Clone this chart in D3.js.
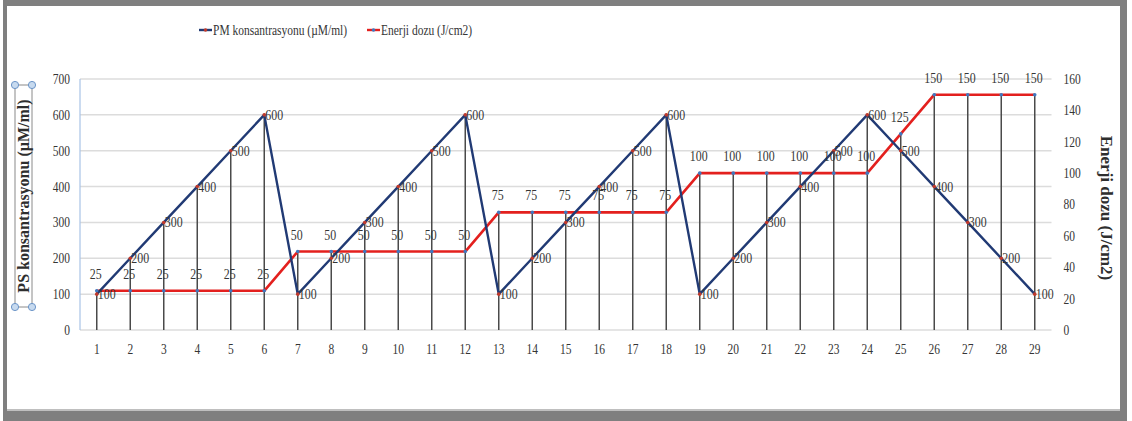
<!DOCTYPE html>
<html>
<head>
<meta charset="utf-8">
<script src="https://cdn.jsdelivr.net/npm/d3@7"></script>
<style>
  html, body { margin: 0; padding: 0; background: #fff; }
  svg { display: block; }
</style>
</head>
<body>
<svg id="chart" width="1132" height="421"></svg>
<script>
// Categories (sessions 1..29)
const categories = d3.range(1, 30).map(String);

// PM concentration (µM/ml), left axis
const pmValues = [100, 200, 300, 400, 500, 600,
                  100, 200, 300, 400, 500, 600,
                  100, 200, 300, 400, 500, 600,
                  100, 200, 300, 400, 500, 600,
                  500, 400, 300, 200, 100];

// Energy dose (J/cm2), right axis
const energyValues = [25, 25, 25, 25, 25, 25,
                      50, 50, 50, 50, 50, 50,
                      75, 75, 75, 75, 75, 75,
                      100, 100, 100, 100, 100, 100,
                      125, 150, 150, 150, 150];

const leftTicks = [0, 100, 200, 300, 400, 500, 600, 700];
const rightTicks = [0, 20, 40, 60, 80, 100, 120, 140, 160];

const seriesNames = ["PM konsantrasyonu (µM/ml)", "Enerji dozu (J/cm2)"];
const leftTitle = "PS konsantrasyonu (µM/ml)";
const rightTitle = "Enerji dozu (J/cm2)";

const PM_COLOR = "#213a74";
const EN_COLOR = "#e3201e";
const TEXT_COLOR = "#353535";
const FONT = "'Liberation Serif', 'Times New Roman', serif";
const SX = 0.82; // horizontal squeeze of the serif labels

const svg = d3.select("#chart");

// Outer frame
svg.append("rect").attr("x", 3).attr("y", 0).attr("width", 1124).attr("height", 421).attr("fill", "#7f7f7f");
svg.append("rect").attr("x", 7).attr("y", 6).attr("width", 1113).attr("height", 403).attr("fill", "#ffffff");
svg.append("line").attr("x1", 7).attr("x2", 1120).attr("y1", 410).attr("y2", 410)
   .attr("stroke", "#d4d4d4").attr("stroke-width", 1.5);

const plot = { left: 80, right: 1051.5, top: 79, bottom: 330 };

const x = d3.scaleBand().domain(categories).range([plot.left, plot.right]).padding(0);
const cx = c => x(c) + x.bandwidth() / 2;
const yL = d3.scaleLinear().domain([0, 700]).range([plot.bottom, plot.top]);
const yR = d3.scaleLinear().domain([0, 160]).range([plot.bottom, plot.top]);

// Horizontal gridlines
svg.append("g").selectAll("line").data(leftTicks).join("line")
  .attr("x1", plot.left).attr("x2", plot.right)
  .attr("y1", d => yL(d)).attr("y2", d => yL(d))
  .attr("stroke", "#dcdcdc").attr("stroke-width", 1.5);

// Left axis line
svg.append("line").attr("x1", plot.left).attr("x2", plot.left)
  .attr("y1", plot.top).attr("y2", plot.bottom)
  .attr("stroke", "#a8c3e6").attr("stroke-width", 1.2);

function squeezeText(sel) {
  sel.each(function () {
    const t = d3.select(this);
    const ox = +t.attr("x") || 0;
    t.attr("x", ox / SX).attr("transform", `scale(${SX},1)`);
  });
}

function styleAxis(g) {
  g.select(".domain").remove();
  g.selectAll(".tick line").remove();
  g.selectAll("text")
    .attr("fill", TEXT_COLOR)
    .style("font-family", FONT)
    .style("font-size", "14px");
}

// Left axis
const gL = svg.append("g").attr("transform", `translate(${plot.left},0)`)
  .call(d3.axisLeft(yL).tickValues(leftTicks).tickSize(0).tickPadding(10));
styleAxis(gL);
squeezeText(gL.selectAll("text"));

// Right axis
const gR = svg.append("g").attr("transform", `translate(${plot.right},0)`)
  .call(d3.axisRight(yR).tickValues(rightTicks).tickSize(0).tickPadding(12));
styleAxis(gR);
squeezeText(gR.selectAll("text"));

// Bottom axis
const gB = svg.append("g").attr("transform", `translate(0,${plot.bottom})`)
  .call(d3.axisBottom(x).tickSize(0).tickPadding(14));
styleAxis(gB);
gB.selectAll("text").attr("transform", `scale(${SX},1)`);

// Drop lines from the highest point of each category down to the axis
svg.append("g").selectAll("line").data(categories).join("line")
  .attr("x1", c => cx(c)).attr("x2", c => cx(c))
  .attr("y1", (c, i) => Math.min(yL(pmValues[i]), yR(energyValues[i])))
  .attr("y2", plot.bottom)
  .attr("stroke", "#4a4a4a").attr("stroke-width", 1.5);

// Series lines
const pmLine = d3.line().x((d, i) => cx(categories[i])).y(d => yL(d));
const enLine = d3.line().x((d, i) => cx(categories[i])).y(d => yR(d));

svg.append("path").datum(energyValues).attr("d", enLine)
  .attr("fill", "none").attr("stroke", EN_COLOR).attr("stroke-width", 2.6)
  .attr("stroke-linejoin", "round");
svg.append("path").datum(pmValues).attr("d", pmLine)
  .attr("fill", "none").attr("stroke", PM_COLOR).attr("stroke-width", 2.4)
  .attr("stroke-linejoin", "round");

// Markers
svg.append("g").selectAll("circle").data(energyValues).join("circle")
  .attr("cx", (d, i) => cx(categories[i])).attr("cy", d => yR(d)).attr("r", 1.8)
  .attr("fill", "#3f78c0");
svg.append("g").selectAll("circle").data(pmValues).join("circle")
  .attr("cx", (d, i) => cx(categories[i])).attr("cy", d => yL(d)).attr("r", 1.8)
  .attr("fill", "#c0392b");

// Data labels: PM to the right of the point, energy above it
svg.append("g").selectAll("text").data(pmValues).join("text")
  .attr("transform", (d, i) => `translate(${cx(categories[i]) + 1},${yL(d) + 5}) scale(${SX},1)`)
  .attr("fill", TEXT_COLOR).style("font-family", FONT).style("font-size", "14.5px")
  .text(d => d);
svg.append("g").selectAll("text").data(energyValues).join("text")
  .attr("transform", (d, i) => `translate(${cx(categories[i]) - 1},${yR(d) - 12}) scale(${SX},1)`)
  .attr("text-anchor", "middle")
  .attr("fill", TEXT_COLOR).style("font-family", FONT).style("font-size", "14.5px")
  .text(d => d);

// Legend
const legend = svg.append("g").attr("transform", "translate(199,30)");
const legendItems = [
  { name: seriesNames[0], line: PM_COLOR, dot: "#c0392b", x: 0 },
  { name: seriesNames[1], line: EN_COLOR, dot: "#3f78c0", x: 168 }
];
legendItems.forEach(it => {
  const g = legend.append("g").attr("transform", `translate(${it.x},0)`);
  g.append("line").attr("x1", 0).attr("x2", 13).attr("y1", 0).attr("y2", 0)
    .attr("stroke", it.line).attr("stroke-width", 2.4);
  g.append("circle").attr("cx", 6.5).attr("cy", 0).attr("r", 1.8).attr("fill", it.dot);
  g.append("text").attr("transform", `translate(14,4.5) scale(${SX},1)`)
    .attr("fill", TEXT_COLOR).style("font-family", FONT).style("font-size", "14px")
    .text(it.name);
});

// Left axis title with its selection frame
svg.append("rect").attr("x", 15).attr("y", 85).attr("width", 17).attr("height", 222)
  .attr("fill", "none").attr("stroke", "#8a8a8a").attr("stroke-width", 1);
svg.append("text")
  .attr("transform", `translate(29,196) rotate(-90)`)
  .attr("text-anchor", "middle")
  .attr("fill", "#2e2e2e").style("font-family", FONT).style("font-size", "16px")
  .style("font-weight", "bold")
  .text(leftTitle);
[[15, 85], [32, 85], [15, 307], [32, 307]].forEach(p => {
  svg.append("circle").attr("cx", p[0]).attr("cy", p[1]).attr("r", 3.6)
    .attr("fill", "#c7daef").attr("stroke", "#6c95c8").attr("stroke-width", 1);
});

// Right axis title
svg.append("text")
  .attr("transform", `translate(1101,208) rotate(90)`)
  .attr("text-anchor", "middle")
  .attr("fill", "#2e2e2e").style("font-family", FONT).style("font-size", "17px")
  .style("font-weight", "bold")
  .text(rightTitle);
</script>
</body>
</html>
